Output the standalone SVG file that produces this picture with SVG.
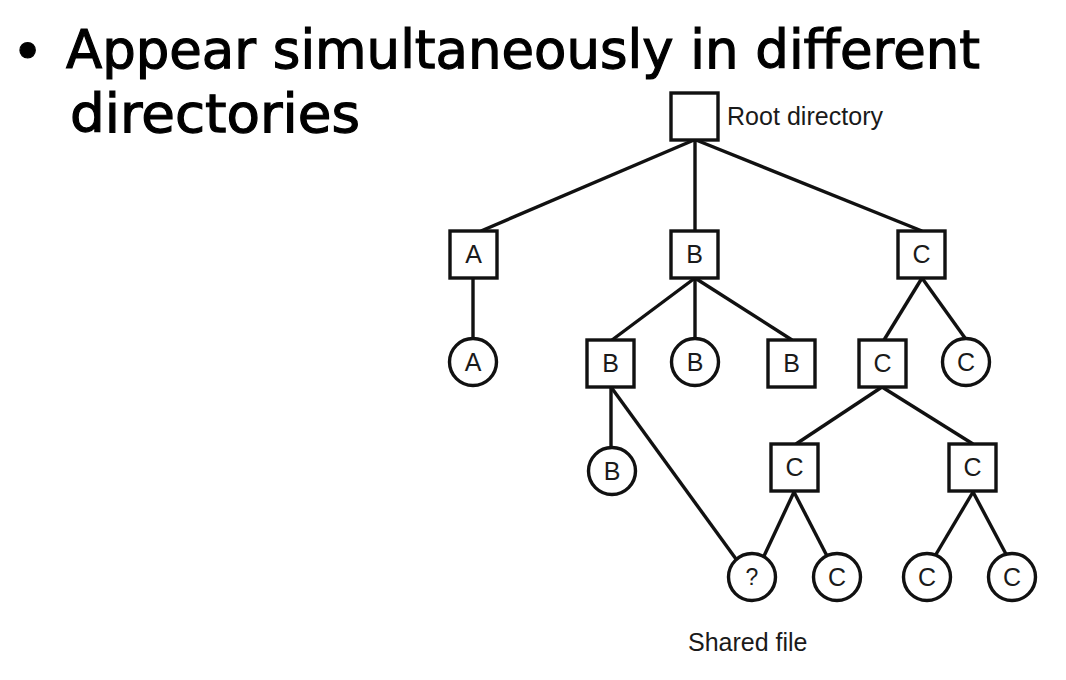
<svg xmlns="http://www.w3.org/2000/svg" width="1066" height="680" viewBox="0 0 1066 680">
<style>
.t{font-family:"DejaVu Sans","Liberation Sans",sans-serif;font-size:53px;fill:#000;stroke:#000;stroke-width:1.2}
.l{font-family:"Liberation Sans",Arial,sans-serif;font-size:25px;fill:#1a1a1a}
.n{font-family:"Liberation Sans",Arial,sans-serif;font-size:25px;fill:#1a1a1a;text-anchor:middle}
.b{fill:#fff;stroke:#111;stroke-width:3.4}
.e line{stroke:#111;stroke-width:3.4;stroke-linecap:butt}
</style>
<rect width="1066" height="680" fill="#fff"/>
<g id="title">
<text class="t" x="12" y="70">•</text>
<text class="t" x="66" y="68" textLength="914" lengthAdjust="spacingAndGlyphs">Appear simultaneously in different</text>
<text class="t" x="70" y="132" textLength="290" lengthAdjust="spacingAndGlyphs">directories</text>
</g>
<g id="connectors" class="e">
<line x1="694" y1="140" x2="481" y2="231"/>
<line x1="695" y1="140" x2="695" y2="231"/>
<line x1="696" y1="140" x2="922" y2="231"/>
<line x1="473" y1="278" x2="473" y2="338"/>
<line x1="695" y1="278" x2="612" y2="340"/>
<line x1="695" y1="278" x2="695" y2="338"/>
<line x1="695" y1="278" x2="792" y2="340"/>
<line x1="922" y1="278" x2="884" y2="340"/>
<line x1="922" y1="278" x2="965" y2="338"/>
<line x1="611" y1="387" x2="611" y2="447"/>
<line x1="611" y1="387" x2="736" y2="559"/>
<line x1="882" y1="387" x2="796" y2="444"/>
<line x1="882" y1="387" x2="973" y2="444"/>
<line x1="794" y1="492" x2="764" y2="556"/>
<line x1="794" y1="492" x2="827" y2="556"/>
<line x1="973" y1="492" x2="935" y2="556"/>
<line x1="973" y1="492" x2="1007" y2="556"/>
</g>
<g id="root"><rect class="b" x="671" y="93" width="47" height="47"/><text class="l" x="727" y="125" textLength="156">Root directory</text></g>
<g id="dirA"><rect class="b" x="450" y="231" width="47" height="47"/><text class="n" x="473.5" y="263">A</text></g>
<g id="dirB"><rect class="b" x="671" y="231" width="47" height="47"/><text class="n" x="694.5" y="263">B</text></g>
<g id="dirC"><rect class="b" x="898" y="231" width="47" height="47"/><text class="n" x="921.5" y="263">C</text></g>
<g id="fileA"><circle class="b" cx="473" cy="362" r="23.5"/><text class="n" x="473" y="371">A</text></g>
<g id="dirB2"><rect class="b" x="587" y="340" width="47" height="47"/><text class="n" x="610.5" y="372">B</text></g>
<g id="fileB1"><circle class="b" cx="695" cy="362" r="23.5"/><text class="n" x="695" y="371">B</text></g>
<g id="dirB3"><rect class="b" x="768" y="340" width="47" height="47"/><text class="n" x="791.5" y="372">B</text></g>
<g id="dirC2"><rect class="b" x="859" y="340" width="47" height="47"/><text class="n" x="882.5" y="372">C</text></g>
<g id="fileC1"><circle class="b" cx="966" cy="362" r="23.5"/><text class="n" x="966" y="371">C</text></g>
<g id="fileB2"><circle class="b" cx="612" cy="471" r="23.5"/><text class="n" x="612" y="480">B</text></g>
<g id="dirC3"><rect class="b" x="771" y="444" width="47" height="47"/><text class="n" x="794.5" y="476">C</text></g>
<g id="dirC4"><rect class="b" x="949" y="444" width="47" height="47"/><text class="n" x="972.5" y="476">C</text></g>
<g id="shared"><circle class="b" cx="752" cy="577" r="23.5"/><text class="n" x="752" y="585" style="font-size:23px">?</text></g>
<g id="fileC2"><circle class="b" cx="837" cy="577" r="23.5"/><text class="n" x="837" y="586">C</text></g>
<g id="fileC3"><circle class="b" cx="927" cy="577" r="23.5"/><text class="n" x="927" y="586">C</text></g>
<g id="fileC4"><circle class="b" cx="1012" cy="577" r="23.5"/><text class="n" x="1012" y="586">C</text></g>
<g id="sharedLabel"><text class="l" x="688" y="651">Shared file</text></g>
</svg>
